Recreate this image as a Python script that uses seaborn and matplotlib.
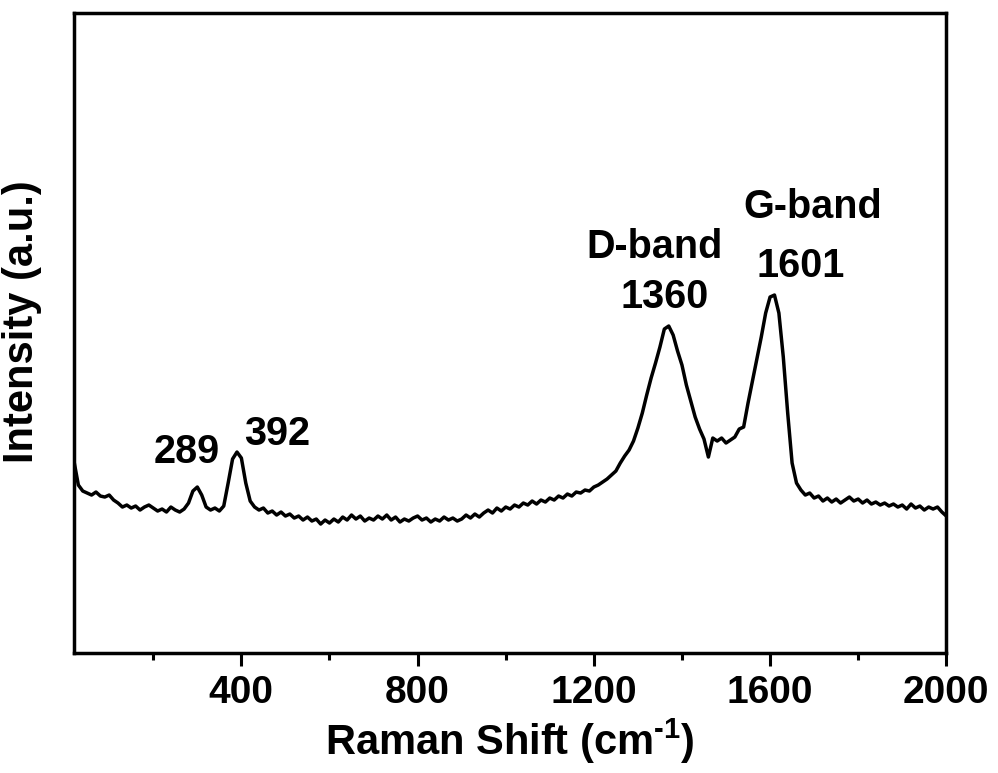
import matplotlib
matplotlib.use("Agg")
import matplotlib.pyplot as plt
import seaborn as sns
import pandas as pd
from matplotlib.ticker import MultipleLocator

# Raman spectrum (wavenumber in cm^-1, intensity in arbitrary units)
raman_shift = list(range(20, 2001, 10))
intensity = [
    192, 168, 162, 160, 158, 161, 157, 156, 158, 153,   # 20-110
    150, 146, 148, 145, 147, 143, 146, 148, 145, 142,   # 120-210
    144, 141, 146, 143, 141, 144, 150, 162, 166, 158,   # 220-310
    146, 143, 145, 142, 147, 170, 194, 201, 195, 170,   # 320-410
    152, 146, 143, 145, 140, 142, 138, 141, 137, 139,   # 420-510
    135, 137, 133, 136, 132, 134, 129, 133, 130, 134,   # 520-610
    131, 136, 133, 138, 134, 137, 132, 135, 133, 137,   # 620-710
    134, 138, 133, 136, 131, 134, 132, 135, 137, 133,   # 720-810
    135, 131, 134, 132, 136, 133, 135, 132, 134, 138,   # 820-910
    135, 139, 136, 140, 143, 140, 145, 142, 146, 144,   # 920-1010
    148, 146, 150, 148, 152, 149, 153, 151, 155, 153,   # 1020-1110
    157, 155, 159, 157, 161, 160, 163, 162, 166, 168,   # 1120-1210
    171, 174, 178, 182, 190, 197, 203, 212, 225, 240,   # 1220-1310
    258, 275, 290, 306, 324, 327, 318, 302, 288, 268,   # 1320-1410
    252, 236, 224, 214, 196, 215, 212, 215, 210, 213,   # 1420-1510
    216, 224, 226, 250, 272, 294, 316, 340, 356, 358,   # 1520-1610
    340, 296, 240, 190, 170, 163, 158, 160, 155, 157,   # 1620-1710
    152, 155, 151, 154, 150, 153, 156, 152, 154, 150,   # 1720-1810
    153, 149, 151, 148, 150, 147, 149, 146, 148, 144,   # 1820-1910
    149, 145, 147, 143, 146, 144, 146, 141, 137,        # 1920-2000
]

# Peak annotations: text, x position, baseline height
peak_labels = ["289", "392", "D-band", "1360", "G-band", "1601"]
peak_label_x = [276, 482, 1338, 1361, 1697, 1669]
peak_label_y = [190, 208, 395, 345, 435, 376]

df = pd.DataFrame({"Raman Shift": raman_shift, "Intensity": intensity})

sns.set_style("ticks")
plt.rcParams["font.family"] = ["Liberation Sans", "DejaVu Sans"]
plt.rcParams["font.weight"] = "bold"
plt.rcParams["text.color"] = "black"
plt.rcParams["axes.labelcolor"] = "black"
plt.rcParams["xtick.color"] = "black"
plt.rcParams["mathtext.fontset"] = "custom"
plt.rcParams["mathtext.rm"] = "Liberation Sans:bold"
plt.rcParams["mathtext.bf"] = "Liberation Sans:bold"
plt.rcParams["mathtext.it"] = "Liberation Sans:bold"

fig = plt.figure(figsize=(9.98, 7.73), dpi=100)
ax = fig.add_axes([0.0741, 0.1552, 0.8741, 0.8286])

sns.lineplot(data=df, x="Raman Shift", y="Intensity", ax=ax,
             color="black", linewidth=2.5)

ax.set_xlim(20, 2000)
ax.set_ylim(0, 640.5)

ax.xaxis.set_major_locator(MultipleLocator(400))
ax.xaxis.set_minor_locator(MultipleLocator(200))
ax.set_yticks([])

for side in ["left", "right", "top", "bottom"]:
    ax.spines[side].set_visible(True)
    ax.spines[side].set_linewidth(2.5)
    ax.spines[side].set_color("black")

ax.tick_params(axis="x", which="major", direction="out", length=9, width=2.2,
               labelsize=28, pad=6.5, colors="black")
ax.tick_params(axis="x", which="minor", direction="out", length=5, width=2.2)
for lbl in ax.get_xticklabels():
    lbl.set_fontweight("bold")

ax.set_xlabel(r"Raman Shift (cm$^{\text{-}1}$)", fontsize=30, fontweight="bold")
ax.set_ylabel("Intensity (a.u.)", fontsize=30, fontweight="bold")
ax.xaxis.label.set_va("baseline")
ax.yaxis.label.set_va("baseline")
ax.xaxis.set_label_coords(0.5, -0.159)
ax.yaxis.set_label_coords(-0.047, 0.517)

for txt, tx, ty in zip(peak_labels, peak_label_x, peak_label_y):
    ax.text(tx, ty, txt, ha="center", va="baseline", fontsize=28.5,
            fontweight="bold", color="black")

fig.savefig("out.png", dpi=100)
